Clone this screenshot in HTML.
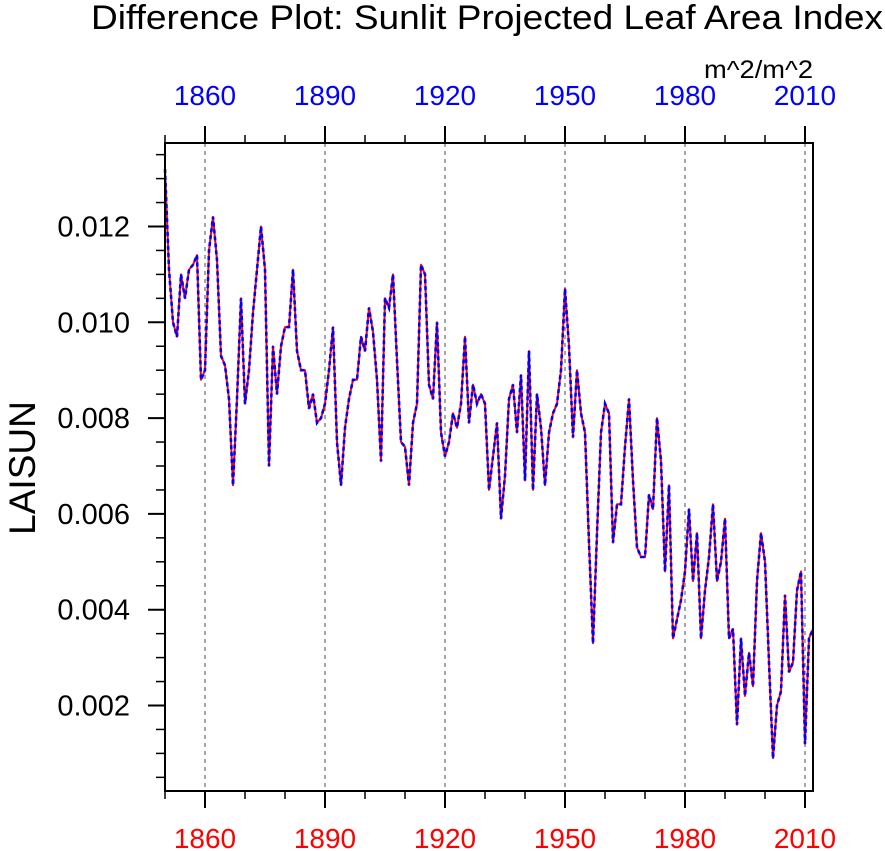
<!DOCTYPE html>
<html><head><meta charset="utf-8"><style>
html,body{margin:0;padding:0;background:#fff;}
svg{display:block;font-family:"Liberation Sans",Arial,sans-serif;}
</style></head><body>
<svg id="chart" width="885" height="851" viewBox="0 0 885 851">
<text x="487" y="29" font-size="34" text-anchor="middle" textLength="792" lengthAdjust="spacingAndGlyphs">Difference Plot: Sunlit Projected Leaf Area Index</text>
<text x="813" y="78" font-size="25" text-anchor="end" textLength="109" lengthAdjust="spacingAndGlyphs">m^2/m^2</text>
<text transform="translate(35,468) rotate(-90)" font-size="37" text-anchor="middle">LAISUN</text>
<g id="grid"></g><g id="ticks"></g><g id="series"></g>
<rect x="165" y="143" width="648" height="648" fill="none" stroke="#000" stroke-width="2"/>
</svg>
<script>
const years = [];
for (let y = 1850; y <= 2012; y++) years.push(y);
const values = [
0.0132,0.0111,0.0100,0.0097,0.0110,0.0105,0.0111,0.0112,0.0114,0.0088,
0.0090,0.0115,0.0122,0.0113,0.0093,0.0091,0.0084,0.0066,0.0084,0.0105,
0.0083,0.0090,0.0102,0.0111,0.0120,0.0111,0.0070,0.0095,0.0085,0.0095,
0.0099,0.0099,0.0111,0.0094,0.0090,0.0090,0.0082,0.0085,0.0079,0.0080,
0.0083,0.0090,0.0099,0.0075,0.0066,0.0078,0.0084,0.0088,0.0088,0.0097,
0.0094,0.0103,0.0098,0.0088,0.0071,0.0105,0.0103,0.0110,0.0092,0.0075,
0.0074,0.0066,0.0079,0.0083,0.0112,0.0110,0.0087,0.0084,0.0100,0.0077,
0.0072,0.0075,0.0081,0.0078,0.0083,0.0097,0.0079,0.0087,0.0083,0.0085,
0.0083,0.0065,0.0072,0.0079,0.0059,0.0068,0.0084,0.0087,0.0077,0.0089,
0.0067,0.0094,0.0065,0.0085,0.0078,0.0066,0.0077,0.0081,0.0083,0.0090,
0.0107,0.0095,0.0076,0.0090,0.0081,0.0077,0.0054,0.0033,0.0056,0.0077,
0.0083,0.0081,0.0054,0.0062,0.0062,0.0074,0.0084,0.0067,0.0053,0.0051,
0.0051,0.0064,0.0061,0.0080,0.0071,0.0048,0.0066,0.0034,0.0038,0.0042,
0.0048,0.0061,0.0046,0.0056,0.0034,0.0044,0.0051,0.0062,0.0046,0.0050,
0.0059,0.0034,0.0036,0.0016,0.0034,0.0022,0.0031,0.0024,0.0046,0.0056,
0.0050,0.0029,0.0009,0.0020,0.0023,0.0043,0.0027,0.0029,0.0044,0.0048,
0.0012,0.0034,0.0036];
const xTickYears = [1860,1890,1920,1950,1980,2010];
const xMinorYears = [1850,1870,1880,1900,1910,1930,1940,1960,1970,1990,2000];
const yTickVals = [0.002,0.004,0.006,0.008,0.010,0.012];
const yTickLabels = ["0.002","0.004","0.006","0.008","0.010","0.012"];

const X0=165,X1=813,Y0=143,Y1=791;
const xMin=1850,xMax=2012;
const yAt0012=226.5, pxPer001=47.9;
function xs(v){return X0+(v-xMin)/(xMax-xMin)*(X1-X0);}
function ys(v){return yAt0012-(v-0.012)/0.001*pxPer001;}
const NS="http://www.w3.org/2000/svg";
function mk(tag,attrs,parent,txt){const e=document.createElementNS(NS,tag);for(const k in attrs)e.setAttribute(k,attrs[k]);if(txt!==undefined)e.textContent=txt;parent.appendChild(e);return e;}
const grid=document.getElementById('grid'),ticks=document.getElementById('ticks'),series=document.getElementById('series');

xTickYears.forEach(function(yr){
  const x=xs(yr);
  const g=mk('line',{x1:x,x2:x,y1:Y0,y2:Y1,stroke:'#777','stroke-width':1.3,'stroke-dasharray':'4,4'},grid);
  
  
  const t1=mk('line',{x1:x,x2:x,y1:Y0,y2:Y0-17,stroke:'#000','stroke-width':2},ticks);
  
  
  const t2=mk('line',{x1:x,x2:x,y1:Y1,y2:Y1+17,stroke:'#000','stroke-width':2},ticks);
  
  
  const l1=mk('text',{x:x,y:105,'font-size':28,'text-anchor':'middle',fill:'#0000ff'},ticks,String(yr));
  
  
  const l2=mk('text',{x:x,y:848,'font-size':28,'text-anchor':'middle',fill:'#ff0000'},ticks,String(yr));
  
  
});
xMinorYears.forEach(function(yr){
  const x=xs(yr);
  const a=mk('line',{x1:x,x2:x,y1:Y0,y2:Y0-8,stroke:'#000','stroke-width':1.5},ticks);
  
  
  const b=mk('line',{x1:x,x2:x,y1:Y1,y2:Y1+8,stroke:'#000','stroke-width':1.5},ticks);
  
  
});
yTickVals.forEach(function(v,i){
  const y=ys(v);
  const t=mk('line',{x1:X0,x2:X0-17,y1:y,y2:y,stroke:'#000','stroke-width':2},ticks);
  
  
  const l=mk('text',{x:130,y:y+10,'font-size':29,'text-anchor':'end'},ticks,yTickLabels[i]);
  
  
});
for(let v=0.0005; v<0.0138; v+=0.0005){
  const y=ys(v);
  if(y<Y0-1||y>Y1+1) continue;
  if(Math.abs((v*1000)%2)<0.01||Math.abs((v*1000)%2-2)<0.01) continue;
  const m=mk('line',{x1:X0,x2:X0-9,y1:y,y2:y,stroke:'#000','stroke-width':1.5},ticks);
  
  
}
const pts=years.map(function(yr,i){return xs(yr).toFixed(1)+','+ys(values[i]).toFixed(1);}).join(' ');
const red=mk('polyline',{points:pts,fill:'none',stroke:'#ff0000','stroke-width':2,'stroke-linejoin':'round'},series);


const blue=mk('polyline',{points:pts,fill:'none',stroke:'#0000ff','stroke-width':2.6,'stroke-dasharray':'4,3'},series);


</script>
</body></html>
